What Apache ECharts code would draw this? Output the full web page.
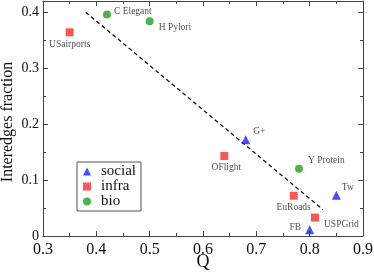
<!DOCTYPE html>
<html><head><meta charset="utf-8">
<script src="https://cdn.jsdelivr.net/npm/echarts@6/dist/echarts.min.js"></script>
<style>html,body{margin:0;padding:0;background:#fff}#c{width:374px;height:277px}</style>
</head><body><div id="c"></div>
<script>
// data
var socialNames = ['G+', 'Tw', 'FB'];
var socialQ = [0.68, 0.85, 0.80];
var socialF = [0.172, 0.073, 0.011];
var infraNames = ['USairports', 'OFlight', 'EuRoads', 'USPGrid'];
var infraQ = [0.35, 0.64, 0.77, 0.81];
var infraF = [0.364, 0.143, 0.072, 0.033];
var bioNames = ['C Elegant', 'H Pylori', 'Y Protein'];
var bioQ = [0.42, 0.50, 0.78];
var bioF = [0.396, 0.384, 0.120];
var fitQ = [0.38, 0.825];
var fitF = [0.400, 0.047];
var xTicks = [0.3, 0.4, 0.5, 0.6, 0.7, 0.8, 0.9];
var yTicks = [0, 0.1, 0.2, 0.3, 0.4];
var xName = 'Q';
var yName = 'Interedges fraction';

// label placement (style)
var labelStyle = {
  'USairports': {position: 'bottom', offset: [0, -1]},
  'OFlight': {position: 'bottom', offset: [2, -1]},
  'EuRoads': {position: 'bottom', offset: [0, -1]},
  'USPGrid': {position: 'right', offset: [1, 7]},
  'C Elegant': {position: 'right', offset: [-1, -3]},
  'H Pylori': {position: 'right', offset: [1, 6]},
  'Y Protein': {position: 'right', offset: [1, -8]},
  'G+': {position: 'right', offset: [-1, -8]},
  'Tw': {position: 'right', offset: [-3, -8]},
  'FB': {position: 'left', offset: [0, -2]}
};

var serif = '"Liberation Serif", "DejaVu Serif", serif';

function build(names, qs, fs) {
  return names.map(function (n, i) {
    var ls = labelStyle[n];
    return {
      value: [qs[i], fs[i]], name: n,
      label: {show: true, formatter: n, position: ls.position, offset: ls.offset,
        fontFamily: serif, fontSize: 9.5, color: '#222', distance: 4}
    };
  });
}

var chart = echarts.init(document.getElementById('c'), null, {renderer: 'canvas'});
var axisColor = '#444';
var baseX = {
  type: 'value', min: 0.3, max: 0.9, interval: 0.1,
  axisLine: {show: true, onZero: false, lineStyle: {color: axisColor, width: 1}},
  axisTick: {show: true, inside: true, length: 5, lineStyle: {color: axisColor}},
  minorTick: {show: true, splitNumber: 2, length: 3, lineStyle: {color: axisColor}},
  splitLine: {show: false}
};
var baseY = {
  type: 'value', min: 0, max: 0.42, interval: 0.1,
  axisLine: {show: true, onZero: false, lineStyle: {color: axisColor, width: 1}},
  axisTick: {show: true, inside: true, length: 5, lineStyle: {color: axisColor}},
  minorTick: {show: true, splitNumber: 2, length: 3, lineStyle: {color: axisColor}},
  splitLine: {show: false}
};

chart.setOption({
  animation: false,
  backgroundColor: '#fff',
  grid: {left: 43, right: 11, top: 1, bottom: 41, containLabel: false, outerBoundsMode: 'none'},
  legend: {
    orient: 'vertical', left: 77, top: 162,
    data: [
      {name: 'social', icon: 'triangle'},
      {name: 'infra', icon: 'rect'},
      {name: 'bio', icon: 'circle'}
    ],
    itemWidth: 8, itemHeight: 8, itemGap: 0,
    borderColor: '#555', borderWidth: 1, borderRadius: 0,
    padding: [2, 5, 2, 6],
    textStyle: {fontFamily: serif, fontSize: 15, lineHeight: 14, color: '#111', padding: [0, 0, 0, 5]}
  },
  graphic: [
    {type: 'text', x: 203, y: 262, style: {text: xName, fontFamily: serif, fontSize: 18, fill: '#111', align: 'center', verticalAlign: 'middle'}},
    {type: 'text', x: 8, y: 122, rotation: Math.PI / 2, style: {text: yName, fontFamily: serif, fontSize: 16, fill: '#111', align: 'center', verticalAlign: 'middle'}}
  ],
  xAxis: [
    Object.assign({}, baseX, {
      position: 'bottom',
      axisLabel: {fontFamily: serif, fontSize: 16, color: '#111', margin: 6,
        formatter: function (v) { var r = Math.round(v * 10) / 10; return xTicks.indexOf(r) >= 0 ? String(r) : ''; }}
    }),
    Object.assign({}, baseX, {position: 'top', axisLabel: {show: false}})
  ],
  yAxis: [
    Object.assign({}, baseY, {
      position: 'left',
      axisLabel: {fontFamily: serif, fontSize: 14, color: '#111', margin: 4,
        formatter: function (v) { var r = Math.round(v * 10) / 10; return yTicks.indexOf(r) >= 0 ? (r === 0 ? '0' : String(r)) : ''; }}
    }),
    Object.assign({}, baseY, {position: 'right', axisLabel: {show: false}})
  ],
  series: [
    {
      name: 'fit', type: 'line', data: fitQ.map(function (q, i) { return [q, fitF[i]]; }),
      symbol: 'none', lineStyle: {color: '#111', width: 1.3, type: [4, 3]}, z: 1, silent: true
    },
    {
      name: 'social', type: 'scatter', symbol: 'triangle', symbolSize: [9, 9],
      itemStyle: {color: '#1f1fff'}, data: build(socialNames, socialQ, socialF), z: 3
    },
    {
      name: 'infra', type: 'scatter', symbol: 'rect', symbolSize: 8,
      itemStyle: {color: '#ff2a2a'}, data: build(infraNames, infraQ, infraF), z: 3
    },
    {
      name: 'bio', type: 'scatter', symbol: 'circle', symbolSize: 8,
      itemStyle: {color: '#22a022'}, data: build(bioNames, bioQ, bioF), z: 3
    }
  ]
});
</script>
</body></html>
